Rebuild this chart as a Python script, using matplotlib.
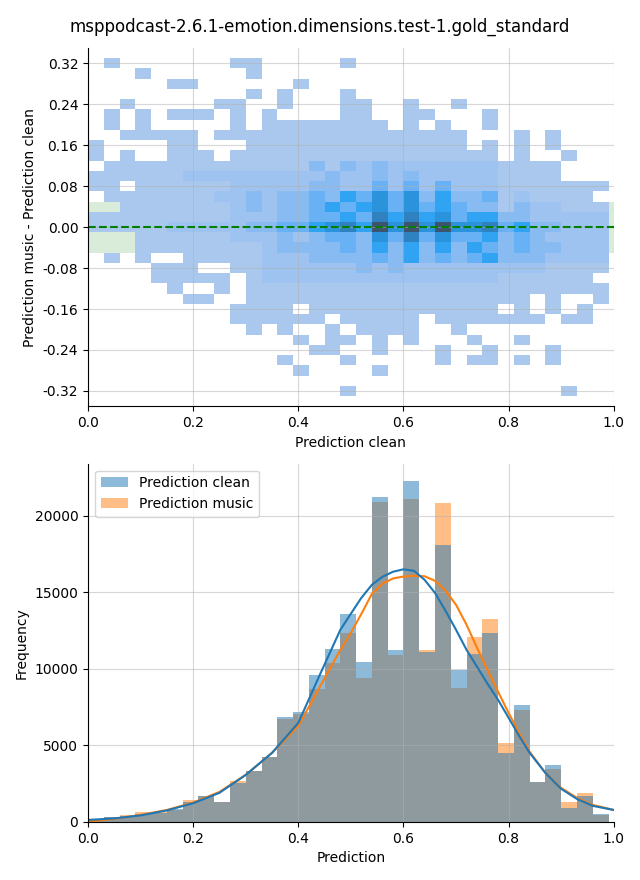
import numpy as np
import matplotlib
matplotlib.use("Agg")
import matplotlib.pyplot as plt
import seaborn as sns

title = "msppodcast-2.6.1-emotion.dimensions.test-1.gold_standard"

# 2D histogram (prediction clean vs. difference), read as colour levels.
# rows go from y=0.32 (top) down to y=-0.32, columns are the 33 x bins
x_edges = np.linspace(0.0, 0.99, 34)
y_centers = np.round(np.arange(0.32, -0.33, -0.02), 2)
level_counts = [0, 8, 55, 130, 220, 350, 480, 620, 800, 1000]
hist2d_levels = [
    "01000000011" "00000100000" "00000000000",
    "00010000001" "00000000000" "00000000000",
    "00000110000" "00100000000" "00000000000",
    "00000000001" "01000100000" "00000000000",
    "00100000110" "01000110010" "01000000000",
    "01010111010" "10000110011" "00010000000",
    "01010000010" "11111111010" "10010000000",
    "00111110111" "11111111111" "11000101000",
    "10000110001" "11111111111" "11010101000",
    "10100111011" "11111111111" "11110100100",
    "01111111111" "11131323222" "22221111000",
    "11111122222" "22223223232" "22221111000",
    "11011111122" "22233224242" "42221111111",
    "01111111223" "23343546463" "53341211110",
    "00111111123" "23345456464" "54331322111",
    "11111111122" "23344547575" "64553322222",
    "11111222223" "34456759696" "96674533222",
    "00011111122" "23234436474" "64453432222",
    "00011111111" "23333435353" "53543433222",
    "01010011111" "22233334353" "43453332222",
    "00001110011" "22222232322" "22222221111",
    "00001111101" "22222222222" "22221111110",
    "00000100101" "11111111111" "11111111111",
    "00000011001" "11111111111" "11111101001",
    "00000000011" "11011111111" "11110101010",
    "00000000011" "11110111110" "11111110110",
    "00000000001" "01001011110" "01000000000",
    "00000000000" "00101101010" "00100100000",
    "00000000000" "00011001000" "10010001000",
    "00000000000" "01000100000" "10110101000",
    "00000000000" "00100001000" "00000000000",
    "00000000000" "00000000000" "00000000000",
    "00000000000" "00000100000" "00000000100",
]

# 1D histograms, 33 bins on the same x edges
counts_clean = [175, 350, 390, 520, 600, 830, 1330, 1700, 1330, 2530, 3350,
                4270, 6840, 7150, 9610, 11300, 13590, 10420, 21240, 11240,
                22290, 11110, 18100, 9930, 11000, 12310, 4470, 7650, 2640,
                3690, 940, 1720, 520]
counts_music = [150, 350, 420, 675, 650, 800, 1440, 1700, 1330, 2680, 3350,
                4270, 6730, 7070, 8700, 10370, 12310, 9430, 20870, 10910,
                21110, 11240, 20800, 8760, 12090, 13270, 5160, 7320, 2640,
                3460, 1270, 1920, 420]

# KDE curves (in counts)
kde_x = [0.0, 0.05, 0.1, 0.15, 0.2, 0.25, 0.3, 0.35, 0.4, 0.44, 0.48, 0.5,
         0.52, 0.54, 0.56, 0.58, 0.6, 0.62, 0.64, 0.66, 0.68, 0.7, 0.72,
         0.74, 0.76, 0.78, 0.8, 0.82, 0.84, 0.87, 0.9, 0.93, 0.96, 1.0]
kde_clean = [130, 230, 425, 750, 1220, 1900, 3070, 4510, 6470, 9540, 12550,
             13600, 14640, 15490, 16010, 16340, 16500, 16400, 15820, 14960,
             13790, 12550, 11240, 10130, 9020, 7970, 6800, 5620, 4510, 3200,
             2160, 1500, 1050, 780]
kde_music = [30, 200, 460, 780, 1260, 1960, 3070, 4510, 6270, 8760, 11240,
             12350, 13590, 14900, 15560, 15900, 16030, 16080, 16050, 15750,
             15100, 14180, 12880, 11370, 9930, 8500, 7120, 5820, 4580, 3200,
             2220, 1570, 1110, 780]

fig, (ax1, ax2) = plt.subplots(2, 1, figsize=(6.4, 8.8), dpi=100)
fig.subplots_adjust(left=0.1375, right=0.959, top=0.9455, bottom=0.066, hspace=0.16)
fig.suptitle(title, fontsize=12, y=0.969, va="center")

# --- top: 2D histogram ---
x_centers = (x_edges[:-1] + x_edges[1:]) / 2
xs, ys, ws = [], [], []
for r, row in enumerate(hist2d_levels):
    for c, ch in enumerate(row):
        lvl = int(ch)
        if lvl > 0:
            xs.append(x_centers[c])
            ys.append(y_centers[r])
            ws.append(level_counts[lvl])
y_edges = np.round(np.arange(-0.33, 0.3301, 0.02), 2)

ax1.axhspan(-0.05, 0.05, color="green", alpha=0.15, lw=0)
sns.histplot(x=xs, y=ys, weights=ws, bins=[x_edges, y_edges], ax=ax1)
ax1.axhline(0, color="green", linestyle="--", lw=1.5)
ax1.set_xlim(0, 1)
ax1.set_ylim(-0.35, 0.35)
ax1.set_yticks(np.round(np.arange(-0.32, 0.33, 0.08), 2))
ax1.yaxis.set_major_formatter(matplotlib.ticker.FormatStrFormatter("%.2f"))
ax1.set_xlabel("Prediction clean")
ax1.set_ylabel("Prediction music - Prediction clean")
ax1.grid(True, alpha=0.5)
ax1.spines["top"].set_visible(False)
ax1.spines["right"].set_visible(False)

# --- bottom: overlaid histograms with kde ---
widths = np.diff(x_edges)
ax2.bar(x_edges[:-1], counts_music, width=widths, align="edge", color="C1", alpha=0.5, lw=0, label="Prediction music")
ax2.bar(x_edges[:-1], counts_clean, width=widths, align="edge", color="C0", alpha=0.5, lw=0, label="Prediction clean")
ax2.plot(kde_x, kde_music, color="C1", lw=1.5)
ax2.plot(kde_x, kde_clean, color="C0", lw=1.5)
handles, labels = ax2.get_legend_handles_labels()
ax2.legend(handles[::-1], labels[::-1], loc="upper left")
ax2.set_xlim(0, 1)
ax2.set_xlabel("Prediction")
ax2.set_ylabel("Frequency")
ax2.grid(True, alpha=0.5)
ax2.spines["top"].set_visible(False)
ax2.spines["right"].set_visible(False)

fig.savefig("out.png", dpi=100)
